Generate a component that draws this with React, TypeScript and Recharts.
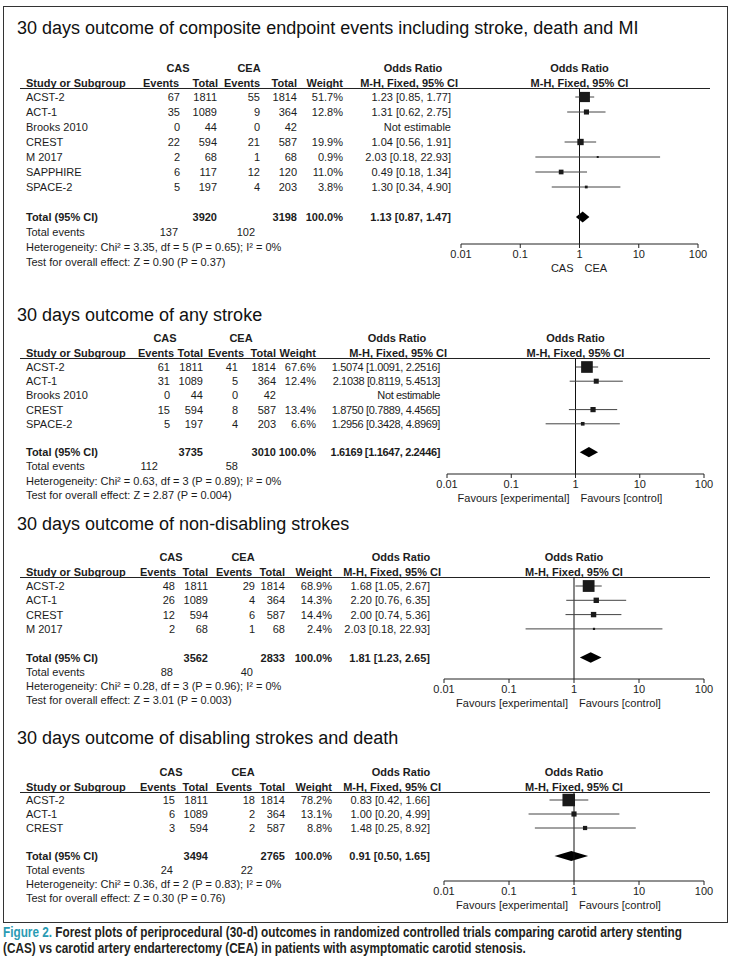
import React from "react";
import {
  ErrorBar,
  ReferenceArea,
  ReferenceLine,
  Scatter,
  ScatterChart,
  XAxis,
  YAxis,
} from "recharts";

// composite endpoint (stroke, death, MI)
const p1Studies = ["ACST-2", "ACT-1", "Brooks 2010", "CREST", "M 2017", "SAPPHIRE", "SPACE-2"];
const p1CasEvents = [67, 35, 0, 22, 2, 6, 5];
const p1CasTotal = [1811, 1089, 44, 594, 68, 117, 197];
const p1CeaEvents = [55, 9, 0, 21, 1, 12, 4];
const p1CeaTotal = [1814, 364, 42, 587, 68, 120, 203];
const p1Weight = [51.7, 12.8, null, 19.9, 0.9, 11.0, 3.8];
const p1OR = [1.23, 1.31, null, 1.04, 2.03, 0.49, 1.3];
const p1Low = [0.85, 0.62, null, 0.56, 0.18, 0.18, 0.34];
const p1High = [1.77, 2.75, null, 1.91, 22.93, 1.34, 4.9];
const p1Totals = [3920, 3198];
const p1TotalEvents = [137, 102];
const p1Pooled = [1.13, 0.87, 1.47];

// any stroke
const p2Studies = ["ACST-2", "ACT-1", "Brooks 2010", "CREST", "SPACE-2"];
const p2CasEvents = [61, 31, 0, 15, 5];
const p2CasTotal = [1811, 1089, 44, 594, 197];
const p2CeaEvents = [41, 5, 0, 8, 4];
const p2CeaTotal = [1814, 364, 42, 587, 203];
const p2Weight = [67.6, 12.4, null, 13.4, 6.6];
const p2OR = [1.5074, 2.1038, null, 1.875, 1.2956];
const p2Low = [1.0091, 0.8119, null, 0.7889, 0.3428];
const p2High = [2.2516, 5.4513, null, 4.4565, 4.8969];
const p2Totals = [3735, 3010];
const p2TotalEvents = [112, 58];
const p2Pooled = [1.6169, 1.1647, 2.2446];

// non-disabling strokes
const p3Studies = ["ACST-2", "ACT-1", "CREST", "M 2017"];
const p3CasEvents = [48, 26, 12, 2];
const p3CasTotal = [1811, 1089, 594, 68];
const p3CeaEvents = [29, 4, 6, 1];
const p3CeaTotal = [1814, 364, 587, 68];
const p3Weight = [68.9, 14.3, 14.4, 2.4];
const p3OR = [1.68, 2.2, 2.0, 2.03];
const p3Low = [1.05, 0.76, 0.74, 0.18];
const p3High = [2.67, 6.35, 5.36, 22.93];
const p3Totals = [3562, 2833];
const p3TotalEvents = [88, 40];
const p3Pooled = [1.81, 1.23, 2.65];

// disabling strokes and death
const p4Studies = ["ACST-2", "ACT-1", "CREST"];
const p4CasEvents = [15, 6, 3];
const p4CasTotal = [1811, 1089, 594];
const p4CeaEvents = [18, 2, 2];
const p4CeaTotal = [1814, 364, 587];
const p4Weight = [78.2, 13.1, 8.8];
const p4OR = [0.83, 1.0, 1.48];
const p4Low = [0.42, 0.2, 0.25];
const p4High = [1.66, 4.99, 8.92];
const p4Totals = [3494, 2765];
const p4TotalEvents = [24, 22];
const p4Pooled = [0.91, 0.5, 1.65];

const orTicks = [0.01, 0.1, 1, 10, 100];

const FONT = "'Liberation Sans', Arial, Helvetica, sans-serif";
const INK = "#1c1c1c";

function T({ x, y, children, align = "left", bold = false, size = 11, color = INK, spacing = 0 }: any) {
  const style: React.CSSProperties = {
    position: "absolute",
    left: x,
    top: y - 8,
    height: 16,
    lineHeight: "16px",
    fontSize: size,
    fontWeight: bold ? 700 : 400,
    letterSpacing: spacing,
    whiteSpace: "nowrap",
    color,
    fontFamily: FONT,
  };
  if (align === "right") style.transform = "translateX(-100%)";
  if (align === "center") style.transform = "translateX(-50%)";
  return <div style={style}>{children}</div>;
}

function Square(props: any) {
  const { cx, cy, payload } = props;
  const s = Math.max(2, 1.42 * Math.sqrt(payload.w));
  return <rect x={cx - s / 2} y={cy - s / 2} width={s} height={s} fill="#1a1a1a" />;
}

function Diamond(props: any) {
  const { x, y, width, height } = props;
  const left = Math.min(x, x + width);
  const top = Math.min(y, y + height);
  const w = Math.abs(width);
  const h = Math.abs(height);
  const mx = left + w / 2;
  const my = top + h / 2;
  const pts = `${left},${my} ${mx},${top} ${left + w},${my} ${mx},${top + h}`;
  return <polygon points={pts} fill="#000" />;
}

function Panel({ d, lay }: any) {
  const n = d.studies.length;
  const rowY = (i: number) => lay.row0 + i * lay.rowH;
  const totalRow = n + 1;
  const c = lay.cols;
  const h = lay.heads;
  const fmt = (v: number) => v.toFixed(d.digits);
  const ciText = (m: number, lo: number, hi: number) => `${fmt(m)} [${fmt(lo)}, ${fmt(hi)}]`;
  const oneX = lay.px0 + (lay.px1 - lay.px0) / 2;
  const hdr2 = lay.ruleY - 5;
  const hdr1 = lay.ruleY - 20;
  const tight = d.digits > 2 ? -0.35 : 0;

  const points = d.studies
    .map((s: string, i: number) => ({
      name: s,
      or: d.or[i],
      row: i,
      w: d.weight[i],
      err: d.or[i] == null ? [0, 0] : [d.or[i] - d.low[i], d.high[i] - d.or[i]],
    }))
    .filter((p: any) => p.or != null);

  const rTop = (lay.ruleY - lay.row0) / lay.rowH;
  const rBot = (lay.axisY - lay.row0) / lay.rowH;
  const chartW = lay.px1 - lay.px0 + 40;
  const chartH = lay.axisY - lay.ruleY + 30;

  return (
    <>
      <T x={17} y={lay.titleY} size={18} color="#111">
        {d.title}
      </T>

      <T x={h.cas} y={hdr1} bold align="center">CAS</T>
      <T x={h.cea} y={hdr1} bold align="center">CEA</T>
      <T x={h.or} y={hdr1} bold align="center">Odds Ratio</T>
      <T x={oneX} y={hdr1} bold align="center">Odds Ratio</T>

      <T x={26} y={hdr2} bold>Study or Subgroup</T>
      <T x={h.casEv} y={hdr2} bold align="right">Events</T>
      <T x={h.casTot} y={hdr2} bold align="right">Total</T>
      <T x={h.ceaEv} y={hdr2} bold align="right">Events</T>
      <T x={h.ceaTot} y={hdr2} bold align="right">Total</T>
      <T x={h.weight} y={hdr2} bold align="right">Weight</T>
      <T x={h.orRight} y={hdr2} bold align="right">M-H, Fixed, 95% CI</T>
      <T x={oneX} y={hdr2} bold align="center">M-H, Fixed, 95% CI</T>

      <div
        style={{
          position: "absolute",
          left: 20,
          width: 690,
          top: lay.ruleY,
          height: 0,
          borderTop: "1px solid #222",
        }}
      />

      {d.studies.map((s: string, i: number) => (
        <React.Fragment key={s}>
          <T x={26} y={rowY(i)}>{s}</T>
          <T x={c.casEv} y={rowY(i)} align="right">{d.casEvents[i]}</T>
          <T x={c.casTot} y={rowY(i)} align="right">{d.casTotal[i]}</T>
          <T x={c.ceaEv} y={rowY(i)} align="right">{d.ceaEvents[i]}</T>
          <T x={c.ceaTot} y={rowY(i)} align="right">{d.ceaTotal[i]}</T>
          <T x={c.weight} y={rowY(i)} align="right">
            {d.weight[i] == null ? "" : `${d.weight[i].toFixed(1)}%`}
          </T>
          <T x={c.or} y={rowY(i)} align="right" spacing={tight}>
            {d.or[i] == null ? "Not estimable" : ciText(d.or[i], d.low[i], d.high[i])}
          </T>
        </React.Fragment>
      ))}

      <T x={26} y={rowY(totalRow)} bold>Total (95% CI)</T>
      <T x={c.casTot} y={rowY(totalRow)} bold align="right">{d.totals[0]}</T>
      <T x={c.ceaTot} y={rowY(totalRow)} bold align="right">{d.totals[1]}</T>
      <T x={c.weight} y={rowY(totalRow)} bold align="right">100.0%</T>
      <T x={c.or} y={rowY(totalRow)} bold align="right" spacing={tight}>
        {ciText(d.pooled[0], d.pooled[1], d.pooled[2])}
      </T>
      <T x={26} y={rowY(totalRow + 1)}>Total events</T>
      <T x={c.totEvCas} y={rowY(totalRow + 1)} align="right">{d.totalEvents[0]}</T>
      <T x={c.totEvCea} y={rowY(totalRow + 1)} align="right">{d.totalEvents[1]}</T>
      <T x={26} y={rowY(totalRow + 2)}>{d.het}</T>
      <T x={26} y={rowY(totalRow + 3)}>{d.overall}</T>

      <div style={{ position: "absolute", left: lay.px0 - 20, top: lay.ruleY }}>
        <ScatterChart
          width={chartW}
          height={chartH}
          margin={{ top: 0, right: 20, bottom: 0, left: 20 }}
        >
          <XAxis
            dataKey="or"
            type="number"
            scale="log"
            domain={[0.01, 100]}
            ticks={orTicks}
            allowDataOverflow
            interval={0}
            height={30}
            tickSize={4}
            stroke="#222"
            tick={{ fontSize: 11, fill: INK, fontFamily: FONT }}
            tickFormatter={(v: number) => String(v)}
          />
          <XAxis
            xAxisId="up"
            dataKey="or"
            type="number"
            scale="log"
            domain={[0.01, 100]}
            ticks={orTicks}
            allowDataOverflow
            interval={0}
            mirror
            height={0}
            tickSize={4}
            axisLine={false}
            stroke="#222"
            tick={false}
          />
          <YAxis
            dataKey="row"
            type="number"
            domain={[rTop, rBot]}
            reversed
            hide
            allowDataOverflow
          />
          <ReferenceLine x={1} stroke="#111" strokeWidth={1} />
          <Scatter data={points} isAnimationActive={false} shape={Square}>
            <ErrorBar dataKey="err" direction="x" width={0} stroke="#444" strokeWidth={1} />
          </Scatter>
          <ReferenceArea
            x1={d.pooled[1]}
            x2={d.pooled[2]}
            y1={totalRow - 0.36}
            y2={totalRow + 0.36}
            shape={Diamond}
            ifOverflow="visible"
          />
        </ScatterChart>
      </div>

      <T x={oneX - 6} y={lay.axisY + 24} align="right">{d.axisLeft}</T>
      <T x={oneX + 5} y={lay.axisY + 24}>{d.axisRight}</T>
    </>
  );
}

const colsWide = {
  casEv: 180, casTot: 217, ceaEv: 260, ceaTot: 297, weight: 343, or: 451,
  totEvCas: 178, totEvCea: 255,
};
const headsWide = {
  casEv: 179, casTot: 218, ceaEv: 260, ceaTot: 297, weight: 343, orRight: 458,
  cas: 178, cea: 249, or: 413,
};
const colsMid = {
  casEv: 170, casTot: 203, ceaEv: 238, ceaTot: 276, weight: 316, or: 440,
  totEvCas: 158, totEvCea: 238,
};
const headsMid = {
  casEv: 174, casTot: 203, ceaEv: 244, ceaTot: 276, weight: 316, orRight: 447,
  cas: 165, cea: 241, or: 397,
};
const colsNarrow = {
  casEv: 175, casTot: 208, ceaEv: 255, ceaTot: 285, weight: 332, or: 430,
  totEvCas: 173, totEvCea: 253,
};
const headsNarrow = {
  casEv: 176, casTot: 208, ceaEv: 252, ceaTot: 285, weight: 332, orRight: 441,
  cas: 171, cea: 243, or: 401,
};

const layouts = [
  { titleY: 28, ruleY: 88, row0: 97, rowH: 15, axisY: 244, px0: 461, px1: 698, cols: colsWide, heads: headsWide },
  { titleY: 315, ruleY: 358, row0: 367, rowH: 14.2, axisY: 474, px0: 447, px1: 704, cols: colsMid, heads: headsMid },
  { titleY: 524, ruleY: 577, row0: 586, rowH: 14.3, axisY: 679, px0: 444, px1: 704, cols: colsNarrow, heads: headsNarrow },
  { titleY: 738, ruleY: 792, row0: 800, rowH: 14, axisY: 881, px0: 444, px1: 704, cols: colsNarrow, heads: headsNarrow },
];

const panels = [
  {
    title: "30 days outcome of composite endpoint events including stroke, death and MI",
    studies: p1Studies, casEvents: p1CasEvents, casTotal: p1CasTotal, ceaEvents: p1CeaEvents,
    ceaTotal: p1CeaTotal, weight: p1Weight, or: p1OR, low: p1Low, high: p1High,
    totals: p1Totals, totalEvents: p1TotalEvents, pooled: p1Pooled, digits: 2,
    het: "Heterogeneity: Chi² = 3.35, df = 5 (P = 0.65); I² = 0%",
    overall: "Test for overall effect: Z = 0.90 (P = 0.37)",
    axisLeft: "CAS", axisRight: "CEA",
  },
  {
    title: "30 days outcome of any stroke",
    studies: p2Studies, casEvents: p2CasEvents, casTotal: p2CasTotal, ceaEvents: p2CeaEvents,
    ceaTotal: p2CeaTotal, weight: p2Weight, or: p2OR, low: p2Low, high: p2High,
    totals: p2Totals, totalEvents: p2TotalEvents, pooled: p2Pooled, digits: 4,
    het: "Heterogeneity: Chi² = 0.63, df = 3 (P = 0.89); I² = 0%",
    overall: "Test for overall effect: Z = 2.87 (P = 0.004)",
    axisLeft: "Favours [experimental]", axisRight: "Favours [control]",
  },
  {
    title: "30 days outcome of non-disabling strokes",
    studies: p3Studies, casEvents: p3CasEvents, casTotal: p3CasTotal, ceaEvents: p3CeaEvents,
    ceaTotal: p3CeaTotal, weight: p3Weight, or: p3OR, low: p3Low, high: p3High,
    totals: p3Totals, totalEvents: p3TotalEvents, pooled: p3Pooled, digits: 2,
    het: "Heterogeneity: Chi² = 0.28, df = 3 (P = 0.96); I² = 0%",
    overall: "Test for overall effect: Z = 3.01 (P = 0.003)",
    axisLeft: "Favours [experimental]", axisRight: "Favours [control]",
  },
  {
    title: "30 days outcome of disabling strokes and death",
    studies: p4Studies, casEvents: p4CasEvents, casTotal: p4CasTotal, ceaEvents: p4CeaEvents,
    ceaTotal: p4CeaTotal, weight: p4Weight, or: p4OR, low: p4Low, high: p4High,
    totals: p4Totals, totalEvents: p4TotalEvents, pooled: p4Pooled, digits: 2,
    het: "Heterogeneity: Chi² = 0.36, df = 2 (P = 0.83); I² = 0%",
    overall: "Test for overall effect: Z = 0.30 (P = 0.76)",
    axisLeft: "Favours [experimental]", axisRight: "Favours [control]",
  },
];

export default function App() {
  return (
    <div
      style={{
        position: "absolute",
        left: 0,
        top: 0,
        width: 731,
        height: 961,
        background: "#fff",
        fontFamily: FONT,
        overflow: "hidden",
      }}
    >
      <div
        style={{
          position: "absolute",
          left: 3,
          top: 6,
          width: 723,
          height: 915,
          border: "1px solid #333",
        }}
      />
      {panels.map((p, i) => (
        <Panel key={p.title} d={p} lay={layouts[i]} />
      ))}
      <div
        style={{
          position: "absolute",
          left: 3,
          top: 924,
          fontFamily: FONT,
          fontWeight: 700,
          fontSize: 14,
          lineHeight: "16px",
          color: "#231f20",
          whiteSpace: "nowrap",
          transform: "scaleX(0.84)",
          transformOrigin: "left top",
        }}
      >
        <span style={{ color: "#2a9bb3" }}>Figure 2.</span> Forest plots of periprocedural (30-d)
        outcomes in randomized controlled trials comparing carotid artery stenting
        <br />
        (CAS) vs carotid artery endarterectomy (CEA) in patients with asymptomatic carotid stenosis.
      </div>
    </div>
  );
}
